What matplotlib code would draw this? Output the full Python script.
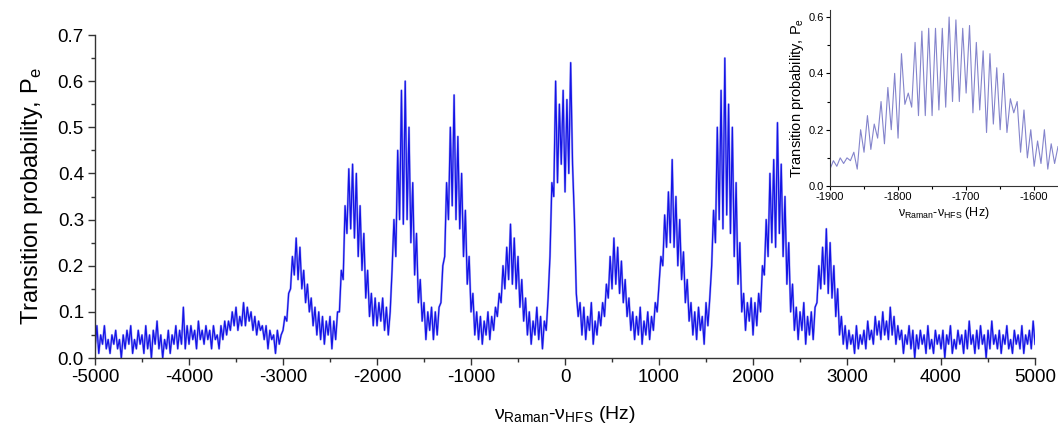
import matplotlib
matplotlib.use("Agg")
import matplotlib.pyplot as plt
from matplotlib.ticker import MultipleLocator, FormatStrFormatter
import numpy as np

plt.rcParams['font.family'] = ['Liberation Sans', 'DejaVu Sans']
plt.rcParams['mathtext.fontset'] = 'custom'
plt.rcParams['mathtext.rm'] = 'Liberation Sans'
plt.rcParams['mathtext.it'] = 'Liberation Sans:italic'
plt.rcParams['axes.unicode_minus'] = False

# main spectrum, one value every 20 Hz starting at -5000 Hz
pe_m5000 = [0.02, 0.07, 0.01, 0.05, 0.03, 0.07, 0.02, 0.04, 0.01, 0.05,
            0.03, 0.06, 0.02, 0.04, 0.00, 0.05, 0.02, 0.06, 0.03, 0.07,
            0.01, 0.04, 0.02, 0.06, 0.03, 0.05, 0.01, 0.07, 0.02, 0.05,
            0.00, 0.06, 0.03, 0.08, 0.02, 0.05, 0.00, 0.04, 0.02, 0.06,
            0.01, 0.05, 0.03, 0.07, 0.02, 0.06, 0.03, 0.11, 0.02, 0.07]
pe_m4000 = [0.03, 0.07, 0.04, 0.06, 0.02, 0.08, 0.04, 0.06, 0.03, 0.07,
            0.04, 0.06, 0.02, 0.07, 0.04, 0.05, 0.02, 0.07, 0.04, 0.08,
            0.05, 0.08, 0.06, 0.10, 0.07, 0.11, 0.06, 0.09, 0.07, 0.12,
            0.07, 0.11, 0.08, 0.10, 0.06, 0.09, 0.05, 0.08, 0.06, 0.07,
            0.04, 0.07, 0.02, 0.06, 0.04, 0.05, 0.01, 0.06, 0.03, 0.05]
pe_m3000 = [0.06, 0.09, 0.08, 0.14, 0.15, 0.22, 0.18, 0.26, 0.17, 0.24,
            0.15, 0.19, 0.12, 0.16, 0.10, 0.13, 0.07, 0.11, 0.05, 0.10,
            0.04, 0.09, 0.03, 0.08, 0.05, 0.09, 0.02, 0.08, 0.04, 0.10,
            0.10, 0.19, 0.17, 0.33, 0.27, 0.41, 0.28, 0.42, 0.26, 0.40,
            0.22, 0.33, 0.19, 0.27, 0.13, 0.19, 0.09, 0.14, 0.07, 0.13]
pe_m2000 = [0.07, 0.12, 0.08, 0.13, 0.06, 0.11, 0.05, 0.10, 0.19, 0.30,
            0.22, 0.45, 0.30, 0.58, 0.29, 0.60, 0.30, 0.50, 0.25, 0.38,
            0.18, 0.27, 0.12, 0.17, 0.08, 0.12, 0.04, 0.10, 0.06, 0.11,
            0.04, 0.10, 0.05, 0.11, 0.12, 0.20, 0.22, 0.38, 0.30, 0.50,
            0.33, 0.57, 0.30, 0.48, 0.28, 0.40, 0.22, 0.32, 0.16, 0.22]
pe_m1000 = [0.10, 0.14, 0.05, 0.10, 0.04, 0.09, 0.03, 0.08, 0.05, 0.10,
            0.04, 0.09, 0.06, 0.11, 0.09, 0.14, 0.12, 0.20, 0.15, 0.24,
            0.17, 0.29, 0.16, 0.26, 0.15, 0.22, 0.11, 0.17, 0.08, 0.13,
            0.05, 0.10, 0.03, 0.08, 0.05, 0.11, 0.04, 0.09, 0.02, 0.08,
            0.06, 0.13, 0.22, 0.38, 0.35, 0.60, 0.38, 0.55, 0.42, 0.58]
pe_p0 = [0.36, 0.56, 0.40, 0.64, 0.42, 0.30, 0.14, 0.09, 0.12, 0.05,
         0.11, 0.04, 0.09, 0.06, 0.12, 0.03, 0.08, 0.05, 0.10, 0.07,
         0.12, 0.09, 0.16, 0.13, 0.22, 0.15, 0.26, 0.16, 0.24, 0.14,
         0.21, 0.12, 0.17, 0.09, 0.13, 0.06, 0.10, 0.04, 0.09, 0.05,
         0.11, 0.03, 0.08, 0.05, 0.10, 0.04, 0.09, 0.06, 0.12, 0.10]
pe_p1000 = [0.16, 0.22, 0.20, 0.31, 0.24, 0.36, 0.25, 0.43, 0.24, 0.35,
            0.20, 0.30, 0.17, 0.23, 0.12, 0.17, 0.08, 0.12, 0.05, 0.10,
            0.04, 0.11, 0.06, 0.09, 0.03, 0.12, 0.07, 0.13, 0.20, 0.32,
            0.25, 0.50, 0.30, 0.58, 0.28, 0.65, 0.31, 0.55, 0.27, 0.50,
            0.22, 0.38, 0.16, 0.25, 0.10, 0.14, 0.06, 0.12, 0.08, 0.13]
pe_p2000 = [0.05, 0.12, 0.07, 0.14, 0.10, 0.20, 0.18, 0.30, 0.22, 0.40,
            0.25, 0.43, 0.24, 0.51, 0.27, 0.42, 0.22, 0.35, 0.16, 0.25,
            0.10, 0.16, 0.06, 0.11, 0.04, 0.10, 0.06, 0.12, 0.03, 0.09,
            0.05, 0.10, 0.04, 0.11, 0.12, 0.20, 0.15, 0.24, 0.16, 0.28,
            0.14, 0.25, 0.13, 0.20, 0.09, 0.15, 0.05, 0.09, 0.03, 0.07]
pe_p3000 = [0.02, 0.06, 0.03, 0.05, 0.01, 0.07, 0.02, 0.05, 0.03, 0.06,
            0.02, 0.08, 0.04, 0.06, 0.03, 0.09, 0.05, 0.08, 0.04, 0.10,
            0.05, 0.08, 0.04, 0.11, 0.05, 0.09, 0.03, 0.07, 0.04, 0.06,
            0.01, 0.05, 0.03, 0.07, 0.02, 0.06, 0.00, 0.05, 0.02, 0.06,
            0.03, 0.05, 0.01, 0.07, 0.02, 0.04, 0.01, 0.06, 0.03, 0.05]
pe_p4000 = [0.02, 0.06, 0.00, 0.05, 0.03, 0.07, 0.01, 0.04, 0.02, 0.06,
            0.03, 0.05, 0.01, 0.06, 0.02, 0.08, 0.03, 0.05, 0.01, 0.06,
            0.02, 0.07, 0.03, 0.05, 0.00, 0.06, 0.02, 0.08, 0.03, 0.05,
            0.02, 0.06, 0.01, 0.05, 0.03, 0.07, 0.02, 0.04, 0.01, 0.06,
            0.03, 0.05, 0.02, 0.07, 0.01, 0.05, 0.03, 0.06, 0.02, 0.08, 0.03]

# inset: zoom on the -1700 Hz peak, one value every 5 Hz from -1900 Hz
inset_a = [0.06, 0.09, 0.07, 0.10, 0.08, 0.10, 0.09, 0.12, 0.06, 0.20,
           0.12, 0.25, 0.13, 0.22, 0.17, 0.30, 0.15, 0.35, 0.20, 0.40,
           0.17, 0.47, 0.29, 0.33, 0.28]
inset_b = [0.51, 0.25, 0.55, 0.25, 0.56, 0.25, 0.56, 0.27, 0.56, 0.28,
           0.60, 0.30, 0.59, 0.30, 0.56, 0.33, 0.57, 0.26, 0.51, 0.27,
           0.48, 0.19]
inset_c = [0.47, 0.22, 0.42, 0.20, 0.40, 0.19, 0.31, 0.26, 0.30, 0.12,
           0.27, 0.10, 0.20, 0.07, 0.16, 0.08, 0.20, 0.06, 0.15, 0.08,
           0.14]

pe = np.array(pe_m5000 + pe_m4000 + pe_m3000 + pe_m2000 + pe_m1000
              + pe_p0 + pe_p1000 + pe_p2000 + pe_p3000 + pe_p4000)
freq = -5000 + 20 * np.arange(len(pe))
inset_pe = np.array(inset_a + inset_b + inset_c)
inset_freq = -1900 + 5 * np.arange(len(inset_pe))

fig = plt.figure(figsize=(10.58, 4.3), dpi=100)
ax = fig.add_axes([0.0898, 0.1674, 0.8885, 0.7512])
ax.plot(freq, pe, color='#6f6ff2', lw=1.6, alpha=0.6)
ax.plot(freq, pe, color='#1414e6', lw=0.9)
ax.set_xlim(-5000, 5000)
ax.set_ylim(0, 0.7)
ax.xaxis.set_major_locator(MultipleLocator(1000))
ax.xaxis.set_minor_locator(MultipleLocator(500))
ax.yaxis.set_major_locator(MultipleLocator(0.1))
ax.yaxis.set_minor_locator(MultipleLocator(0.05))
ax.yaxis.set_major_formatter(FormatStrFormatter('%.1f'))
for s in ['top', 'right']:
    ax.spines[s].set_visible(False)
for s in ['left', 'bottom']:
    ax.spines[s].set_color('#333333')
    ax.spines[s].set_linewidth(1.0)
ax.tick_params(which='major', direction='out', length=5, width=1, color='#333333',
               labelsize=13.5, pad=3)
ax.tick_params(which='minor', direction='out', length=3, width=1, color='#333333')
ax.set_ylabel('Transition probability, P$_{\\mathrm{e}}$', fontsize=17, labelpad=9)
ax.set_xlabel('ν$_{\\mathrm{Raman}}$-ν$_{\\mathrm{HFS}}$ (Hz)', fontsize=14, labelpad=13)

ins = fig.add_axes([0.7845, 0.5674, 0.2155, 0.4093])
ins.plot(inset_freq, inset_pe, color='#8484cc', lw=0.8)
ins.set_xlim(-1900, -1565)
ins.set_ylim(0, 0.625)
ins.xaxis.set_major_locator(MultipleLocator(100))
ins.xaxis.set_minor_locator(MultipleLocator(50))
ins.yaxis.set_major_locator(MultipleLocator(0.2))
ins.yaxis.set_minor_locator(MultipleLocator(0.1))
ins.yaxis.set_major_formatter(FormatStrFormatter('%.1f'))
for s in ['top', 'right']:
    ins.spines[s].set_visible(False)
for s in ['left', 'bottom']:
    ins.spines[s].set_color('#333333')
    ins.spines[s].set_linewidth(0.8)
ins.tick_params(which='major', direction='out', length=3, width=0.8, labelsize=8, pad=1.5)
ins.tick_params(which='minor', direction='out', length=2, width=0.8)
ins.set_ylabel('Transition probability, P$_{\\mathrm{e}}$', fontsize=10.5, labelpad=2)
ins.set_xlabel('ν$_{\\mathrm{Raman}}$-ν$_{\\mathrm{HFS}}$ (Hz)', fontsize=9, labelpad=2)

fig.savefig('out.png', dpi=100)
